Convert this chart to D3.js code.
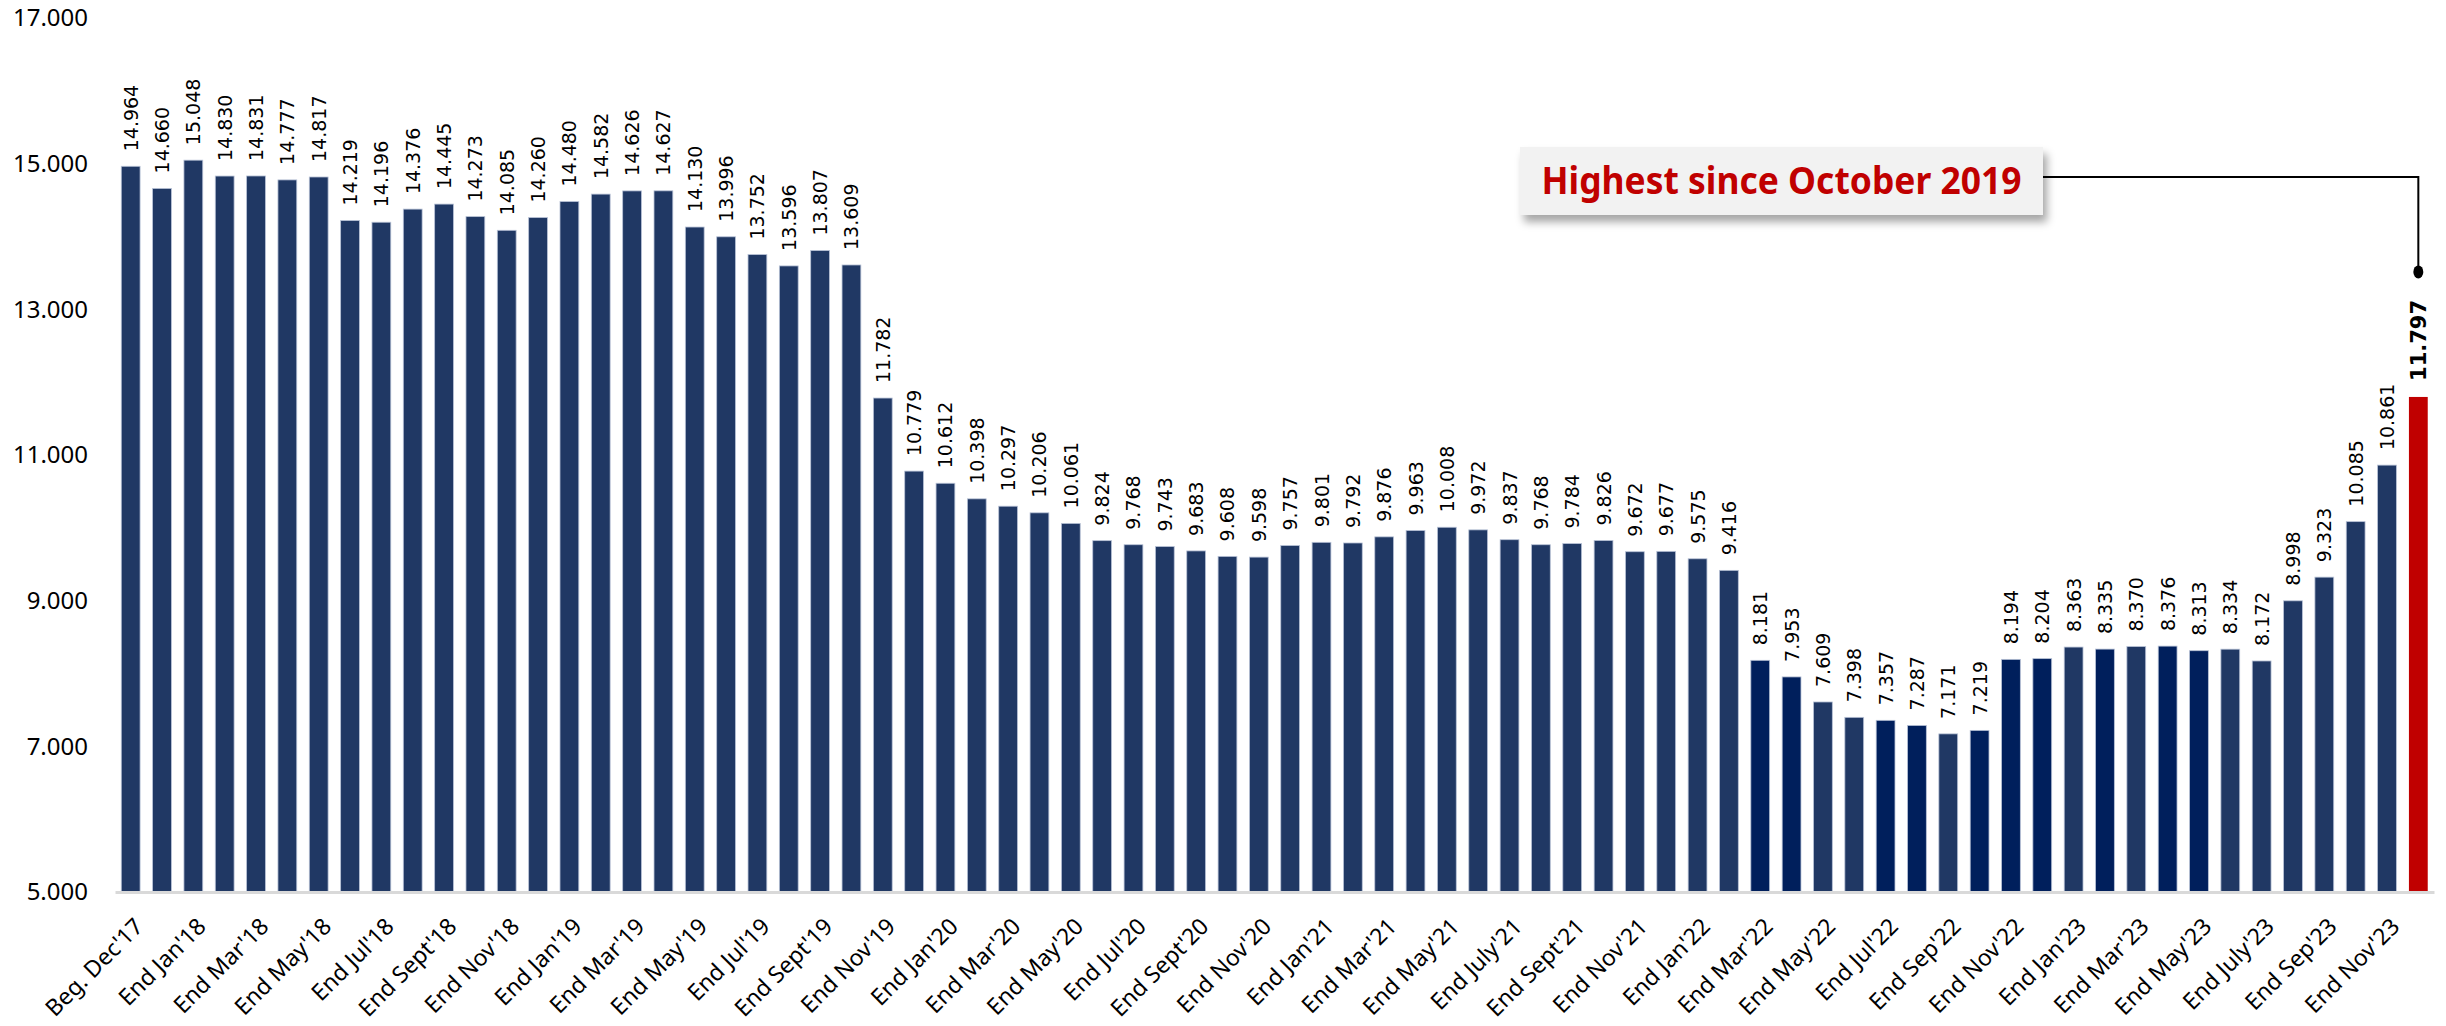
<!DOCTYPE html>
<html>
<head>
<meta charset="utf-8">
<script src="https://cdn.jsdelivr.net/npm/d3@7"></script>
<style>
  body { margin: 0; background: #fff; }
  svg { display: block; }
</style>
</head>
<body>
<div id="chart"></div>
<script>
// months, one bar each (only every other one gets an axis label)
const categories = [
  "Beg. Dec'17", "End Dec'17", "End Jan'18", "End Feb'18", "End Mar'18", "End Apr'18",
  "End May'18", "End Jun'18", "End Jul'18", "End Aug'18", "End Sept'18", "End Oct'18",
  "End Nov'18", "End Dec'18", "End Jan'19", "End Feb'19", "End Mar'19", "End Apr'19",
  "End May'19", "End Jun'19", "End Jul'19", "End Aug'19", "End Sept'19", "End Oct'19",
  "End Nov'19", "End Dec'19", "End Jan'20", "End Feb'20", "End Mar'20", "End Apr'20",
  "End May'20", "End Jun'20", "End Jul'20", "End Aug'20", "End Sept'20", "End Oct'20",
  "End Nov'20", "End Dec'20", "End Jan'21", "End Feb'21", "End Mar'21", "End Apr'21",
  "End May'21", "End Jun'21", "End July'21", "End Aug'21", "End Sept'21", "End Oct'21",
  "End Nov'21", "End Dec'21", "End Jan'22", "End Feb'22", "End Mar'22", "End Apr'22",
  "End May'22", "End Jun'22", "End Jul'22", "End Aug'22", "End Sep'22", "End Oct'22",
  "End Nov'22", "End Dec'22", "End Jan'23", "End Feb'23", "End Mar'23", "End Apr'23",
  "End May'23", "End Jun'23", "End July'23", "End Aug'23", "End Sep'23", "End Oct'23",
  "End Nov'23", "End Dec'23"
];
const values = [
  14.964, 14.660, 15.048, 14.830, 14.831, 14.777, 14.817, 14.219, 14.196, 14.376,
  14.445, 14.273, 14.085, 14.260, 14.480, 14.582, 14.626, 14.627, 14.130, 13.996,
  13.752, 13.596, 13.807, 13.609, 11.782, 10.779, 10.612, 10.398, 10.297, 10.206,
  10.061, 9.824, 9.768, 9.743, 9.683, 9.608, 9.598, 9.757, 9.801, 9.792,
  9.876, 9.963, 10.008, 9.972, 9.837, 9.768, 9.784, 9.826, 9.672, 9.677,
  9.575, 9.416, 8.181, 7.953, 7.609, 7.398, 7.357, 7.287, 7.171, 7.219,
  8.194, 8.204, 8.363, 8.335, 8.370, 8.376, 8.313, 8.334, 8.172, 8.998,
  9.323, 10.085, 10.861, 11.797
];
// bars drawn in the deeper navy in the source
const darkMonths = [
  "End Mar'22", "End Apr'22", "End Jul'22", "End Aug'22", "End Oct'22",
  "End Nov'22", "End Dec'22", "End Feb'23", "End Apr'23", "End May'23"
];
const yTicks = [5, 7, 9, 11, 13, 15, 17];
const note = 'Highest since October 2019';

const data = categories.map((c, i) => ({ cat: c, value: values[i] }));
const last = data[data.length - 1];

const svgwidth = 2446;
const svgheight = 1026;
const svg = d3.select('#chart').append('svg')
  .attr('width', svgwidth)
  .attr('height', svgheight);

const defs = svg.append('defs');
const shadow = defs.append('filter').attr('id', 'shadow')
  .attr('x', '-10%').attr('y', '-30%').attr('width', '120%').attr('height', '170%');
shadow.append('feDropShadow')
  .attr('dx', 4).attr('dy', 7).attr('stdDeviation', 4)
  .attr('flood-color', '#000').attr('flood-opacity', 0.35);

const x = d3.scaleBand()
  .domain(categories)
  .range([115, 2434])
  .paddingInner(0.4)
  .paddingOuter(0.2);
const y = d3.scaleLinear()
  .domain([5, 17])
  .range([892, 18]);
const fmt = d3.format('.3f');

// y axis labels only
const yAxis = svg.append('g')
  .attr('transform', `translate(${x.range()[0]},0)`)
  .call(d3.axisLeft(y).tickValues(yTicks).tickFormat(fmt).tickSize(0).tickPadding(27));
yAxis.select('.domain').remove();
yAxis.selectAll('text')
  .attr('font-family', 'Noto Sans, sans-serif')
  .attr('font-size', 24)
  .attr('fill', '#000');

// bars
svg.append('g').selectAll('rect')
  .data(data)
  .enter()
  .append('rect')
  .attr('x', d => x(d.cat))
  .attr('y', d => y(d.value))
  .attr('width', x.bandwidth())
  .attr('height', d => y(5) - y(d.value))
  .attr('fill', d => {
    if (d === last) return '#c00000';
    return darkMonths.includes(d.cat) ? '#001f5c' : '#203864';
  })
  .attr('stroke', d => (d === last ? 'none' : '#b8c2d6'))
  .attr('stroke-width', 0.8);

// x axis
const xAxis = svg.append('g')
  .attr('transform', `translate(0,${y(5)})`)
  .call(d3.axisBottom(x)
    .tickValues(categories.filter((c, i) => i % 2 === 0 && i < categories.length - 1))
    .tickSize(0));
xAxis.select('.domain')
  .attr('stroke', '#d9d9d9')
  .attr('stroke-width', 3);
xAxis.selectAll('text')
  .attr('font-family', 'Noto Sans, sans-serif')
  .attr('font-size', 23)
  .attr('fill', '#000')
  .attr('text-anchor', 'end')
  .attr('x', 0)
  .attr('y', 0)
  .attr('dy', 0)
  .attr('transform', 'translate(14,36) rotate(-45)');

// value labels
svg.append('g').selectAll('text')
  .data(data)
  .enter()
  .append('text')
  .attr('transform', d => {
    const bold = d === last;
    const cx = x(d.cat) + x.bandwidth() / 2 + (bold ? 8 : 7);
    return `translate(${cx},${y(d.value) - (bold ? 16 : 15)}) rotate(-90)`;
  })
  .attr('font-family', 'DejaVu Sans, sans-serif')
  .attr('font-size', d => (d === last ? 21 : 19))
  .attr('font-weight', d => (d === last ? 'bold' : 'normal'))
  .attr('fill', '#000')
  .text(d => fmt(d.value));

// callout box
const box = { x: 1520, y: 147, w: 523, h: 68 };
svg.append('rect')
  .attr('x', box.x)
  .attr('y', box.y)
  .attr('width', box.w)
  .attr('height', box.h)
  .attr('fill', '#f2f2f2')
  .attr('filter', 'url(#shadow)');
svg.append('text')
  .attr('x', box.x + box.w / 2)
  .attr('y', box.y + box.h / 2)
  .attr('dy', '0.35em')
  .attr('text-anchor', 'middle')
  .attr('font-family', 'Noto Sans, sans-serif')
  .attr('font-weight', 'bold')
  .attr('font-size', 38)
  .attr('fill', '#c00000')
  .attr('textLength', 480)
  .attr('lengthAdjust', 'spacingAndGlyphs')
  .text(note);

// connector from the box down to the last bar
const lineX = x(last.cat) + x.bandwidth() / 2;
const dotY = y(last.value) - 125;
svg.append('path')
  .attr('d', `M${box.x + box.w},${box.y + 30}H${lineX}V${dotY}`)
  .attr('fill', 'none')
  .attr('stroke', '#000')
  .attr('stroke-width', 2);
svg.append('ellipse')
  .attr('cx', lineX)
  .attr('cy', dotY)
  .attr('rx', 5)
  .attr('ry', 6.5)
  .attr('fill', '#000');
</script>
</body>
</html>
